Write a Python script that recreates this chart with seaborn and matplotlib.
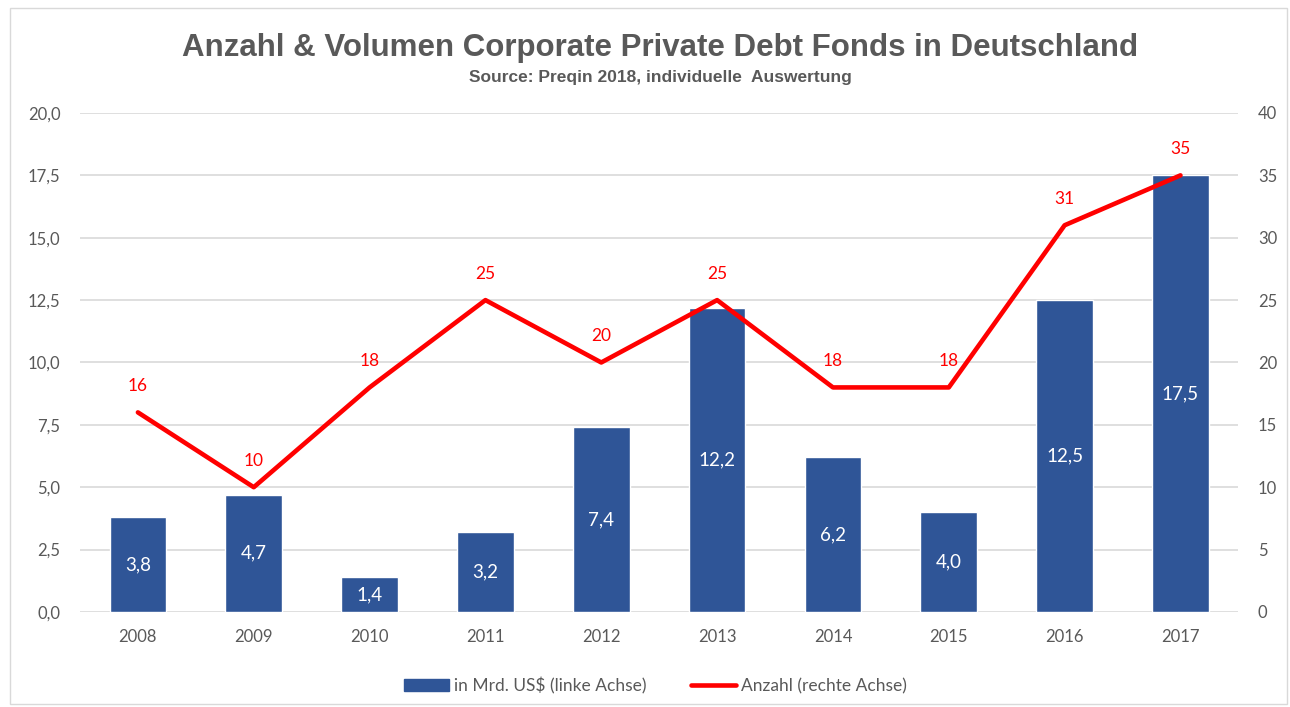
import matplotlib
matplotlib.use("Agg")
import matplotlib.pyplot as plt
import seaborn as sns
import pandas as pd
import numpy as np
from matplotlib.patches import Rectangle
from matplotlib.lines import Line2D

years = ["2008", "2009", "2010", "2011", "2012", "2013", "2014", "2015", "2016", "2017"]
volumen = [3.8, 4.7, 1.4, 3.2, 7.4, 12.2, 6.2, 4.0, 12.5, 17.5]
anzahl = [16, 10, 18, 25, 20, 25, 18, 18, 31, 35]

left_ticks = [0, 2.5, 5, 7.5, 10, 12.5, 15, 17.5, 20]
right_ticks = [0, 5, 10, 15, 20, 25, 30, 35, 40]

bar_color = "#2F5597"
line_color = "#FF0000"
text_gray = "#595959"

sns.set_style("white")
plt.rcParams["font.family"] = ["Lato", "DejaVu Sans"]

df = pd.DataFrame({"Jahr": years, "Volumen": volumen, "Anzahl": anzahl})

fig = plt.figure(figsize=(12.9, 7.07), dpi=100)
ax = fig.add_axes([0.062, 0.1344, 0.898, 0.7058])

sns.barplot(data=df, x="Jahr", y="Volumen", color=bar_color, saturation=1,
            width=0.49, ax=ax)
ax.set_ylim(0, 20)
ax.set_xlim(-0.5, 9.5)
ax.set_yticks(left_ticks)
ax.set_yticklabels([f"{v:.1f}".replace(".", ",") for v in left_ticks])
ax.grid(axis="y", color="#D9D9D9", linewidth=1.2)
ax.set_axisbelow(True)
ax.set_xlabel("")
ax.set_ylabel("")
for s in ax.spines.values():
    s.set_visible(False)
ax.tick_params(axis="both", length=0, labelsize=12, colors=text_gray, pad=12)
ax.tick_params(axis="y", pad=14)

ax.bar_label(ax.containers[0], labels=[f"{v:.1f}".replace(".", ",") for v in volumen],
             label_type="center", color="white", fontsize=13.5)

ax2 = ax.twinx()
sns.lineplot(x=np.arange(len(years)), y=anzahl, color=line_color, linewidth=3.3,
             ax=ax2, legend=False)
ax2.set_ylim(0, 40)
ax2.set_yticks(right_ticks)
ax2.set_yticklabels([str(v) for v in right_ticks])
for s in ax2.spines.values():
    s.set_visible(False)
ax2.tick_params(axis="y", length=0, labelsize=12, colors=text_gray, pad=14)
ax2.set_ylabel("")
ax2.set_xlim(-0.5, 9.5)

for i, v in enumerate(anzahl):
    ax2.annotate(str(v), (i, v), xytext=(0, 13), textcoords="offset points",
                 ha="center", va="bottom", color=line_color, fontsize=12.5)

fig.text(0.512, 0.932, "Anzahl & Volumen Corporate Private Debt Fonds in Deutschland",
         ha="center", va="center", fontsize=22.5, fontweight="bold", color=text_gray,
         family=["Liberation Sans Narrow", "Liberation Sans", "DejaVu Sans"])
fig.text(0.512, 0.891, "Source: Preqin 2018, individuelle  Auswertung",
         ha="center", va="center", fontsize=12.5, fontweight="bold", color=text_gray,
         family=["Liberation Sans Narrow", "Liberation Sans", "DejaVu Sans"])

handles = [Rectangle((0, 0), 1, 1, color=bar_color),
           Line2D([0], [0], color=line_color, linewidth=3.3)]
fig.legend(handles, ["in Mrd. US$ (linke Achse)", "Anzahl (rechte Achse)"],
           loc="center", bbox_to_anchor=(0.508, 0.030), ncol=2, frameon=False,
           fontsize=12.5, labelcolor=text_gray, handlelength=2.6, handletextpad=0.25,
           columnspacing=2.6)

fig.patches.append(Rectangle((0.008, 0.004), 0.99, 0.985, transform=fig.transFigure,
                             fill=False, edgecolor="#D9D9D9", linewidth=1))

fig.savefig("out.png", dpi=100)
